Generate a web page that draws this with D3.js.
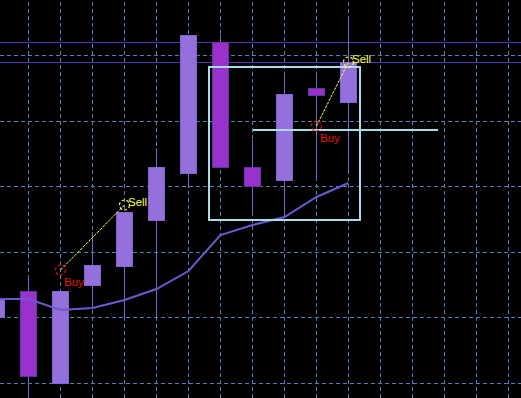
<!DOCTYPE html>
<html lang="en">
    <head>
        <meta charset="UTF-8" />
        <title>H1 chart</title>
        <script src="https://d3js.org/d3.v7.min.js"></script>
        <style>
            body {
                margin: 0;
                padding: 0;
                background: #000;
                overflow: hidden;
            }
            svg {
                display: block;
                background: #000;
            }
            .grid line {
                stroke: #5282b8;
                stroke-dasharray: 4, 3;
            }
            .grid path {
                display: none;
            }
            .wick {
                stroke: #7a62d6;
                stroke-width: 1px;
            }
            .body.bull {
                fill: #9370db;
                stroke: #8464d0;
            }
            .body.bear {
                fill: #9932cc;
                stroke: #63349c;
            }
            .ma {
                fill: none;
                stroke: #6a5acd;
                stroke-width: 2px;
            }
            .level {
                stroke: #5038b0;
                stroke-width: 1px;
            }
            .obj {
                fill: none;
                stroke: #a8dde8;
                stroke-width: 2px;
            }
            .trade-line {
                stroke: #ffff40;
                stroke-width: 1px;
                stroke-dasharray: 3, 1;
            }
            .mark {
                fill: none;
                stroke-width: 1.2px;
                stroke-dasharray: 3, 2;
            }
            .label {
                font-family: 'Liberation Sans', Arial, sans-serif;
                font-size: 11.5px;
            }
        </style>
    </head>
    <body>
        <svg id="chart" width="521" height="398"></svg>

        <script>
            // H1 bars
            const times = [
                '2013-05-10 00:00', '2013-05-10 01:00', '2013-05-10 02:00', '2013-05-10 03:00',
                '2013-05-10 04:00', '2013-05-10 05:00', '2013-05-10 06:00', '2013-05-10 07:00',
                '2013-05-10 08:00', '2013-05-10 09:00', '2013-05-10 10:00', '2013-05-10 11:00',
            ];
            const open = [1.30101, 1.3014, 1.3, 1.30149, 1.30179, 1.30249, 1.3032, 1.3052, 1.30329, 1.30309, 1.3045, 1.30429];
            const high = [1.30142, 1.30161, 1.30141, 1.3023, 1.30261, 1.30358, 1.3053, 1.30531, 1.30371, 1.30469, 1.30469, 1.3056];
            const low = [1.30094, 1.29967, 1.3, 1.30115, 1.30097, 1.30097, 1.303, 1.30329, 1.30261, 1.3026, 1.3031, 1.30318];
            const close = [1.3013, 1.3001, 1.30141, 1.3018, 1.30261, 1.3033, 1.3053, 1.30329, 1.303, 1.3044, 1.30439, 1.3049];
            const ma = [1.30128, 1.30128, 1.30111, 1.30115, 1.30126, 1.30144, 1.3017, 1.30226, 1.30241, 1.30253, 1.30283, 1.30305];

            // price grid and horizontal levels
            const priceTicks = [1.3, 1.301, 1.302, 1.303, 1.304, 1.305];
            const levels = [1.3052, 1.30489];

            // trades: buy -> sell
            const trades = [
                { buyTime: '2013-05-10 02:00', buy: 1.30172, sellTime: '2013-05-10 04:00', sell: 1.30271 },
                { buyTime: '2013-05-10 10:00', buy: 1.30392, sellTime: '2013-05-10 11:00', sell: 1.3049 },
            ];

            // drawn objects
            const rectTimes = ['2013-05-10 06:39', '2013-05-10 11:22'];
            const rectPrices = [1.30481, 1.30249];
            const hlineTimes = ['2013-05-10 08:02', '2013-05-10 13:48'];
            const hlinePrice = 1.30386;

            const parse = d3.utcParse('%Y-%m-%d %H:%M');
            const svg = d3.select('#chart');
            const width = +svg.attr('width');
            const height = +svg.attr('height');

            const t0 = parse(times[0]);
            const x = d3
                .scaleUtc()
                .domain([t0, d3.utcHour.offset(t0, 16)])
                .range([-4, 508])
                .interpolate(d3.interpolateRound);
            const y = d3.scaleLinear().domain([1.3, 1.305]).range([383, 55]).interpolate(d3.interpolateRound);

            const bars = times.map((t, i) => ({
                t: parse(t),
                o: open[i],
                h: high[i],
                l: low[i],
                c: close[i],
                ma: ma[i],
            }));

            // grid
            svg.append('g')
                .attr('class', 'grid')
                .attr('transform', `translate(0,${height})`)
                .call(
                    d3
                        .axisBottom(x)
                        .tickValues(d3.utcHour.range(d3.utcHour.offset(t0, 1), d3.utcHour.offset(t0, 17)))
                        .tickSize(height)
                        .tickFormat('')
                )
                .selectAll('line')
                .attr('y2', -height);

            svg.append('g')
                .attr('class', 'grid')
                .call(d3.axisLeft(y).tickValues(priceTicks).tickSize(-width).tickFormat(''));

            // horizontal levels
            svg.selectAll('.level')
                .data(levels)
                .join('line')
                .attr('class', 'level')
                .attr('x1', 0)
                .attr('x2', width)
                .attr('y1', (d) => y(d) + 0.5)
                .attr('y2', (d) => y(d) + 0.5);

            // candles
            const candle = svg.append('g').selectAll('g').data(bars).join('g');

            candle
                .append('line')
                .attr('class', 'wick')
                .attr('x1', (d) => x(d.t) + 0.5)
                .attr('x2', (d) => x(d.t) + 0.5)
                .attr('y1', (d) => y(d.h))
                .attr('y2', (d) => y(d.l));

            candle
                .append('rect')
                .attr('class', (d) => `body ${d.c >= d.o ? 'bull' : 'bear'}`)
                .attr('x', (d) => x(d.t) - 7.5)
                .attr('width', 16)
                .attr('y', (d) => y(Math.max(d.o, d.c)) + 0.5)
                .attr('height', (d) => Math.max(1, y(Math.min(d.o, d.c)) - y(Math.max(d.o, d.c))));

            // moving average
            svg.append('path')
                .datum(bars)
                .attr('class', 'ma')
                .attr(
                    'd',
                    d3
                        .line()
                        .x((d) => x(d.t) + 0.5)
                        .y((d) => y(d.ma))
                );

            // rectangle + horizontal trend line
            svg.append('rect')
                .attr('class', 'obj')
                .attr('x', x(parse(rectTimes[0])))
                .attr('y', y(rectPrices[0]))
                .attr('width', x(parse(rectTimes[1])) - x(parse(rectTimes[0])))
                .attr('height', y(rectPrices[1]) - y(rectPrices[0]));

            svg.append('line')
                .attr('class', 'obj')
                .attr('x1', x(parse(hlineTimes[0])))
                .attr('x2', x(parse(hlineTimes[1])))
                .attr('y1', y(hlinePrice))
                .attr('y2', y(hlinePrice));

            // trades
            const tg = svg.append('g').selectAll('g').data(trades).join('g');

            tg.append('line')
                .attr('class', 'trade-line')
                .attr('x1', (d) => x(parse(d.buyTime)) + 0.5)
                .attr('y1', (d) => y(d.buy))
                .attr('x2', (d) => x(parse(d.sellTime)) + 0.5)
                .attr('y2', (d) => y(d.sell));

            tg.append('circle')
                .attr('class', 'mark')
                .attr('stroke', '#e01010')
                .attr('cx', (d) => x(parse(d.buyTime)) + 0.5)
                .attr('cy', (d) => y(d.buy))
                .attr('r', 5);

            tg.append('circle')
                .attr('class', 'mark')
                .attr('stroke', '#ffff40')
                .attr('cx', (d) => x(parse(d.sellTime)) + 0.5)
                .attr('cy', (d) => y(d.sell))
                .attr('r', 5);

            tg.append('text')
                .attr('class', 'label')
                .attr('fill', '#e01010')
                .attr('x', (d) => x(parse(d.buyTime)) + 4)
                .attr('y', (d) => y(d.buy) + 16)
                .text('Buy');

            tg.append('text')
                .attr('class', 'label')
                .attr('fill', '#ffff40')
                .attr('x', (d) => x(parse(d.sellTime)) + 4)
                .attr('y', (d) => y(d.sell) + 1)
                .text('Sell');
        </script>
    </body>
</html>
